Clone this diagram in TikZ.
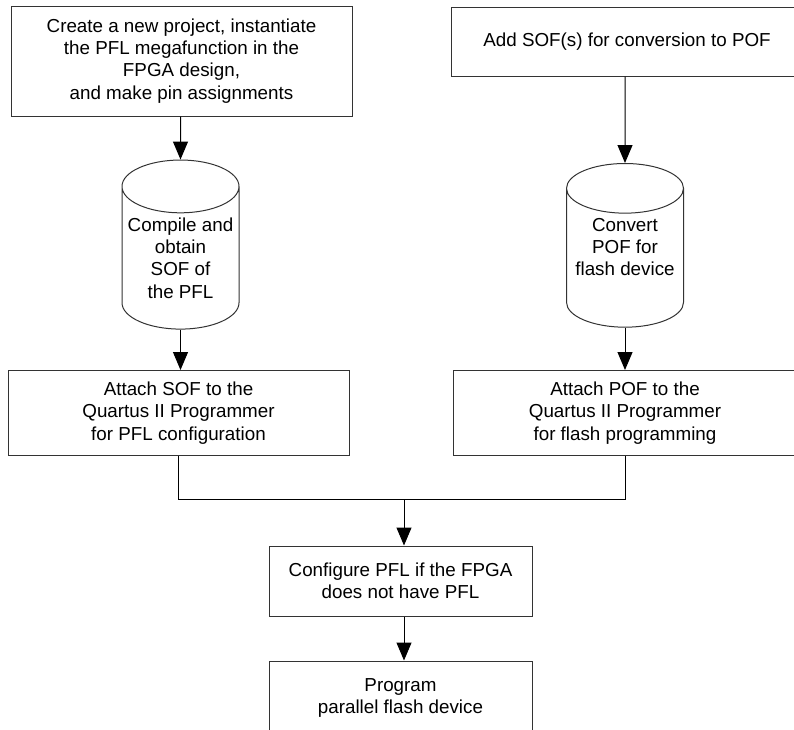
\documentclass[tikz,border=0pt]{standalone}
\usepackage{fontspec}
\setmainfont{Liberation Sans}
\usetikzlibrary{shapes.geometric,arrows.meta}

\begin{document}
\begin{tikzpicture}[x=1pt,y=-1pt,
  every node/.style={font=\fontsize{18.8}{22.2}\selectfont, align=center, inner sep=0pt},
  box/.style={draw=black!80, line width=1pt},
  drum/.style={cylinder, shape border rotate=90, draw=black!80, line width=1pt,
    aspect=0.5, inner ysep=4.5pt, minimum width=117pt, minimum height=146pt},
  flow/.style={-{Triangle[length=18pt,width=15pt]}, line width=1pt}]
  \useasboundingbox (0,0) rectangle (794,729);
  \clip (0,0) rectangle (794,729);

  % left column
  \node[box, minimum width=341pt, minimum height=110pt] (make) at (181.5,61)
    {Create a new project, instantiate\\the PFL megafunction in the\\FPGA design,\\and make pin assignments};
  \node[drum] (compile) at (180.5,258) {Compile and\\obtain\\SOF of\\the PFL};
  \node[box, minimum width=341pt, minimum height=85pt] (attsof) at (178.5,413)
    {Attach SOF to the\\Quartus II Programmer\\for PFL configuration};

  % right column
  \node[box, minimum width=352pt, minimum height=69pt] (add) at (627,41.5)
    {Add SOF(s) for conversion to POF};
  \node[drum] (convert) at (625,258) {Convert\\POF for\\flash device\\\mbox{}};
  \node[box, minimum width=344pt, minimum height=85pt] (attpof) at (625,413)
    {Attach POF to the\\Quartus II Programmer\\for flash programming};

  % bottom
  \coordinate (join) at (404,499);
  \node[box, minimum width=263pt, minimum height=70pt] (cfg) at (400.5,581)
    {Configure PFL if the FPGA\\does not have PFL};
  \node[box, minimum width=263pt, minimum height=74pt] (prog) at (400.5,698)
    {Program\\parallel flash device};

  \draw[flow] (make.south -| compile) -- (compile);
  \draw[flow] (compile) -- (compile |- attsof.north);
  \draw[flow] (add.south -| convert) -- (convert);
  \draw[flow] (convert) -- (convert |- attpof.north);
  \draw[line width=1pt] (attsof.south) |- (join) -| (attpof.south);
  \draw[flow] (join) -- (join |- cfg.north);
  \draw[flow] (cfg.south -| join) -- (join |- prog.north);
\end{tikzpicture}
\end{document}
